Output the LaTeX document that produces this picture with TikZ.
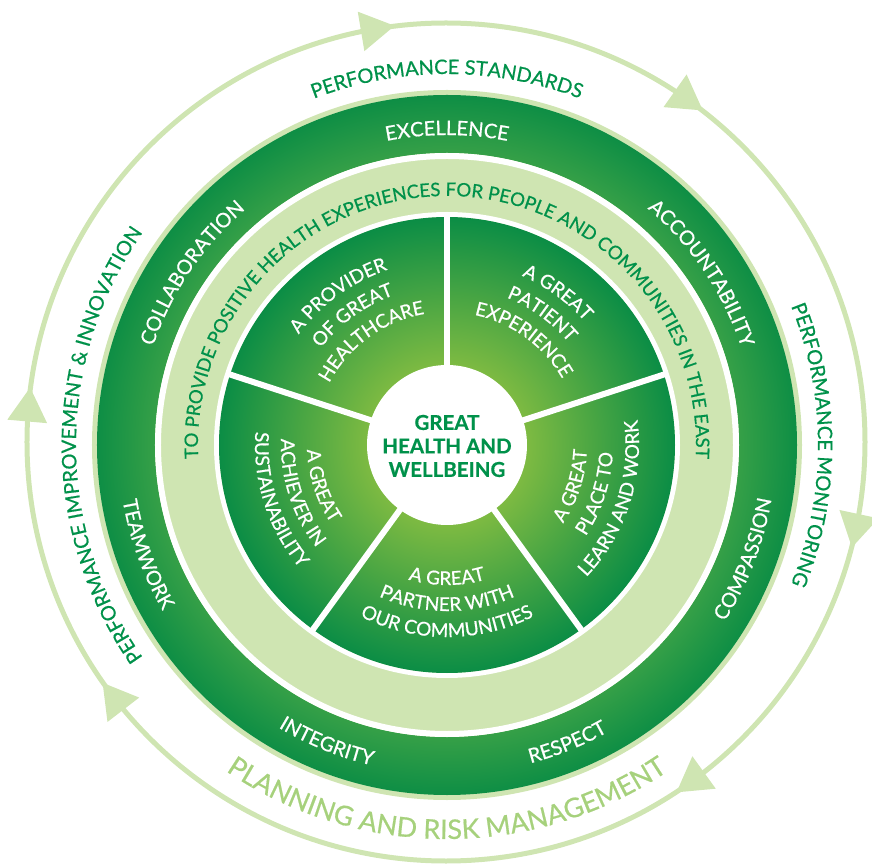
\documentclass[tikz,border=0pt]{standalone}
\usepackage{fontspec}
\setmainfont{Lato}[FakeBold=0.6]
\usetikzlibrary{decorations.text}

\definecolor{loopgreen}{HTML}{CFE5B2}
\definecolor{bandgreen}{HTML}{CFE5B2}
\definecolor{labelgreen}{HTML}{00914A}
\definecolor{plangreen}{HTML}{A6D17C}
\definecolor{ringlight}{HTML}{36A047}
\definecolor{ringdark}{HTML}{0E8E45}
\definecolor{piecore}{HTML}{7DBA42}
\definecolor{pieedge}{HTML}{0B8D45}

% values ring: lighter on its inner edge, darker outside
\pgfdeclareradialshading{ringshade}{\pgfpoint{0bp}{0bp}}{color(0bp)=(ringlight); color(20.8bp)=(ringlight); color(25bp)=(ringdark); color(50bp)=(ringdark)}
% five-part wheel: bright round the hub, deep green at the rim
\pgfdeclareradialshading{pieshade}{\pgfpoint{0bp}{0bp}}{color(0bp)=(piecore); color(8.8bp)=(piecore); color(25bp)=(pieedge); color(50bp)=(pieedge)}

\newcommand\fOuter{\fontsize{20}{20}\selectfont}
\newcommand\fPlan{\fontsize{27}{27}\selectfont}
\newcommand\fValue{\fontsize{20}{20}\selectfont}
\newcommand\fBand{\fontsize{18.6}{18.6}\selectfont}
\newcommand\fSector{\fontsize{19}{19}\selectfont}

% text set along an arc round the centre: colour, radius, start angle, end angle, text
\newcommand\ringtext[5]{%
  \path[decorate,decoration={text along path,text align=center,text color=#1,text={#5}}]
    (#3:#2) arc[start angle=#3,end angle=#4,radius=#2];}

\begin{document}
\begin{tikzpicture}[x=1pt,y=1pt]
\useasboundingbox (-447,-419) rectangle (425,445);

% outer management cycle with its arrowheads
\draw[loopgreen, line width=5pt] (-1,3) circle[radius=419];
\foreach \a in {99.5,54.7,-12.1,-54.2,-142.5,175}
  \fill[loopgreen, shift={(-1,3)}, rotate=\a] (419,-18) -- (439,16) -- (399,16) -- cycle;

% values ring, mission band and wheel
\fill[bandgreen] (0,0) circle[radius=355];
\shade[shading=ringshade, even odd rule] (0,0) circle[radius=350] (0,0) circle[radius=292];
\draw[white, line width=6pt] (0,0) circle[radius=289];
\draw[white, line width=5pt] (0,0) circle[radius=230.5];
\shade[shading=pieshade] (0,0) circle[radius=228];
\foreach \a in {90,18,-54,-126,162}
  \draw[white, line width=6pt] (0,0) -- (\a:230);
\fill[white] (0,0) circle[radius=80];

\node[align=center, text=labelgreen, font=\bfseries\fontsize{20.5}{23.5}\selectfont] (core) at (0,-1) {GREAT\\HEALTH AND\\WELLBEING};

% cycle stages
\ringtext{labelgreen}{371}{140}{40}{|\fOuter|PERFORMANCE STANDARDS}
\ringtext{labelgreen}{371}{50}{-50}{|\fOuter|PERFORMANCE MONITORING}
\ringtext{labelgreen}{371}{235}{125}{|\fOuter|PERFORMANCE IMPROVEMENT {\&} INNOVATION}
\ringtext{plangreen}{394}{-145}{-35}{|\fPlan|PLANNING AND RISK MANAGEMENT}

% values
\ringtext{white}{310}{130}{50}{|\fValue|EXCELLENCE}
\ringtext{white}{310}{74}{-6}{|\fValue|ACCOUNTABILITY}
\ringtext{white}{310}{186}{106}{|\fValue|COLLABORATION}
\ringtext{white}{329}{-61}{19}{|\fValue|COMPASSION}
\ringtext{white}{329}{-100}{-36}{|\fValue|RESPECT}
\ringtext{white}{329}{-144}{-80}{|\fValue|INTEGRITY}
\ringtext{white}{329}{160}{240}{|\fValue|TEAMWORK}

% mission
\ringtext{labelgreen}{249}{200}{-20}{|\fBand|TO PROVIDE POSITIVE HEALTH EXPERIENCES FOR PEOPLE AND COMMUNITIES IN THE EAST}

% ambitions
\ringtext{white}{185}{166}{86}{|\fSector|A PROVIDER}
\ringtext{white}{159}{166}{86}{|\fSector|OF GREAT}
\ringtext{white}{133}{166}{86}{|\fSector|HEALTHCARE}
\ringtext{white}{185}{94}{14}{|\fSector|A GREAT}
\ringtext{white}{159}{94}{14}{|\fSector|PATIENT}
\ringtext{white}{133}{94}{14}{|\fSector|EXPERIENCE}
\ringtext{white}{140}{-58}{22}{|\fSector|A GREAT}
\ringtext{white}{166}{-58}{22}{|\fSector|PLACE TO}
\ringtext{white}{192}{-58}{22}{|\fSector|LEARN AND WORK}
\ringtext{white}{140}{-130}{-50}{|\fSector|A GREAT}
\ringtext{white}{166}{-130}{-50}{|\fSector|PARTNER WITH}
\ringtext{white}{192}{-130}{-50}{|\fSector|OUR COMMUNITIES}
\ringtext{white}{140}{158}{238}{|\fSector|A GREAT}
\ringtext{white}{166}{158}{238}{|\fSector|ACHIEVER IN}
\ringtext{white}{192}{158}{238}{|\fSector|SUSTAINABILITY}
\end{tikzpicture}
\end{document}
